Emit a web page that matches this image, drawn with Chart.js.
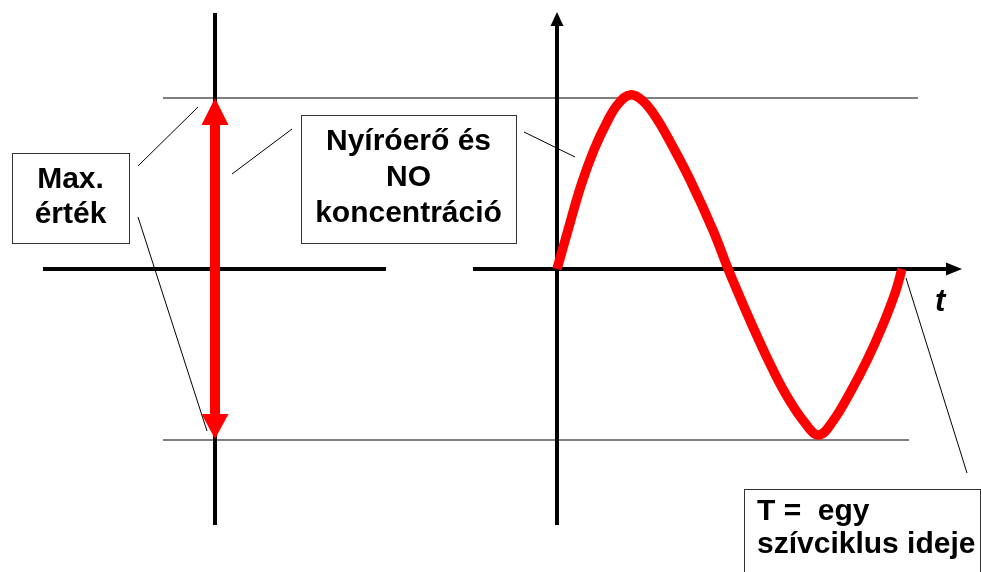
<!DOCTYPE html>
<html>
<head>
<meta charset="utf-8">
<script src="https://cdn.jsdelivr.net/npm/chart.js@4/dist/chart.umd.min.js"></script>
<style>
html, body { margin: 0; padding: 0; background: #fff; }
#wrap { width: 981px; height: 572px; position: relative; }
</style>
</head>
<body>
<div id="wrap"><canvas id="szivciklus"></canvas></div>
<script>
// egy szívciklus: idő T egységben, érték a maximumhoz viszonyítva
const cycleTime = [0, 0.032, 0.07, 0.107, 0.145, 0.177, 0.212, 0.249, 0.29, 0.333, 0.386, 0.452, 0.496,
                   0.525, 0.568, 0.612, 0.661, 0.719, 0.759, 0.8, 0.849, 0.899, 0.942, 0.98, 1];
const shearValue = [0, 0.228, 0.491, 0.696, 0.86, 0.965, 1.018, 0.982, 0.877, 0.725, 0.52, 0.228, 0,
                    -0.14, -0.339, -0.532, -0.725, -0.901, -0.971, -0.889, -0.725, -0.532, -0.339, -0.14, 0];
const maxLevels = [1, -1];

const labelMax = ['Max.', 'érték'];
const labelShear = ['Nyíróerő és', 'NO', 'koncentráció'];
const labelPeriod = ['T =  egy', 'szívciklus ideje'];
const labelTime = 't';

const FONT = "bold 30px 'Liberation Sans', Arial, sans-serif";

function line(c, x1, y1, x2, y2, w, color) {
    c.beginPath();
    c.moveTo(x1, y1);
    c.lineTo(x2, y2);
    c.lineWidth = w;
    c.strokeStyle = color;
    c.stroke();
}

function tri(c, pts, color) {
    c.beginPath();
    c.moveTo(pts[0], pts[1]);
    c.lineTo(pts[2], pts[3]);
    c.lineTo(pts[4], pts[5]);
    c.closePath();
    c.fillStyle = color;
    c.fill();
}

function box(c, x, y, w, h) {
    c.fillStyle = '#fff';
    c.fillRect(x, y, w, h);
    c.lineWidth = 1;
    c.strokeStyle = '#333';
    c.strokeRect(x + 0.5, y + 0.5, w, h);
}

function texts(c, lines, x, y0, step, align) {
    c.font = FONT;
    c.fillStyle = '#000';
    c.textAlign = align;
    c.textBaseline = 'alphabetic';
    lines.forEach((s, i) => c.fillText(s, x, y0 + i * step));
}

const diagram = {
    id: 'diagram',
    beforeDatasetsDraw(chart) {
        const c = chart.ctx;
        const xs = chart.scales.x, ys = chart.scales.y;
        const y0 = ys.getPixelForValue(0);
        const ox = xs.getPixelForValue(0);
        const yTop = ys.getPixelForValue(maxLevels[0]);
        const yBot = ys.getPixelForValue(maxLevels[1]);
        c.save();

        // max. szintek
        line(c, 163, yTop, 918, yTop, 1.5, '#555');
        line(c, 163, yBot, 909, yBot, 1.5, '#555');

        // bal oldali tengelyek
        line(c, 215, 13, 215, 525, 4, '#000');
        line(c, 43, y0, 386, y0, 4, '#000');

        // jobb oldali tengelyek nyíllal
        line(c, ox, 24, ox, 525, 4, '#000');
        tri(c, [ox, 12, ox - 6.5, 26, ox + 6.5, 26], '#000');
        line(c, 473, y0, 948, y0, 4, '#000');
        tri(c, [962, y0, 946, y0 - 6.5, 946, y0 + 6.5], '#000');

        // mutató vonalak
        line(c, 138, 166, 198, 107, 1, '#000');
        line(c, 138, 217, 207, 431, 1, '#000');
        line(c, 232, 174, 292, 129, 1, '#000');
        line(c, 524, 132, 575, 157, 1, '#000');
        line(c, 906, 278, 967, 473, 1, '#000');

        // feliratok
        box(c, 12, 153, 117, 90);
        texts(c, labelMax, 70.5, 188, 35, 'center');
        box(c, 301, 115, 215, 128);
        texts(c, labelShear, 408.5, 150, 36, 'center');
        box(c, 744, 489, 236, 100);
        texts(c, labelPeriod, 757, 520, 33, 'left');

        c.font = "bold italic 31px 'Liberation Sans', Arial, sans-serif";
        c.textAlign = 'left';
        c.fillText(labelTime, 935, 311);
        c.restore();
    },
    afterDatasetsDraw(chart) {
        const c = chart.ctx;
        const ys = chart.scales.y;
        const yTop = ys.getPixelForValue(maxLevels[0]);
        const yBot = ys.getPixelForValue(maxLevels[1]);
        c.save();
        // piros kettős nyíl: max. érték
        line(c, 215, yTop + 24, 215, yBot - 24, 10, '#ff0000');
        tri(c, [215, yTop, 201.5, yTop + 27, 228.5, yTop + 27], '#ff0000');
        tri(c, [215, yBot - 1, 201.5, yBot - 26, 228.5, yBot - 26], '#ff0000');
        c.restore();
    }
};

const ctx = document.getElementById('szivciklus').getContext('2d');
const szivciklus = new Chart(ctx, {
    type: 'scatter',
    data: {
        datasets: [{
            label: 'Nyíróerő és NO koncentráció',
            data: cycleTime.map((t, i) => ({ x: t, y: shearValue[i] })),
            showLine: true,
            borderColor: '#ff0000',
            borderWidth: 9.5,
            borderJoinStyle: 'round',
            pointRadius: 0,
            tension: 0.4,
            clip: false
        }]
    },
    options: {
        responsive: true,
        maintainAspectRatio: false,
        animation: false,
        layout: { padding: 0 },
        plugins: {
            legend: { display: false },
            tooltip: { enabled: false }
        },
        scales: {
            x: { type: 'linear', display: false, min: -557 / 345, max: 424 / 345 },
            y: { type: 'linear', display: false, min: -303 / 171, max: 269 / 171 }
        }
    },
    plugins: [diagram]
});
</script>
</body>
</html>
